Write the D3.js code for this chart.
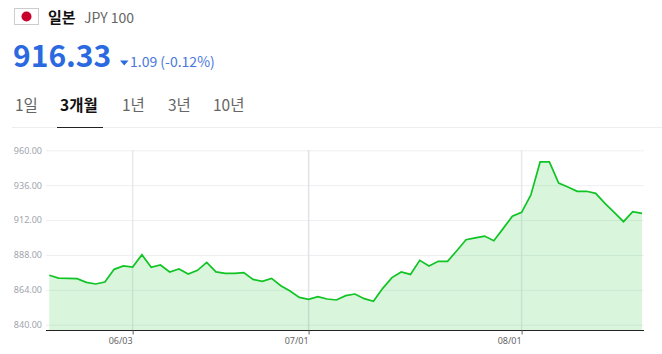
<!DOCTYPE html>
<html>
<head>
<meta charset="utf-8">
<script src="https://cdn.jsdelivr.net/npm/d3@7"></script>
<style>
body{margin:0;background:#fff;font-family:"Noto Sans CJK KR","Noto Sans",sans-serif;}
svg{display:block;}
</style>
</head>
<body>
<svg id="chart" width="662" height="354"></svg>
<script>
const rates = [874.0,872.1,871.9,871.7,869.1,868.0,869.4,878.1,880.4,879.7,888.2,879.5,881.1,876.3,878.3,874.9,877.4,882.9,876.3,875.3,875.3,875.8,871.2,869.8,871.9,866.8,863.2,858.8,857.4,859.3,857.7,857.0,860.0,861.1,857.9,856.1,865.0,872.4,876.3,874.6,884.3,880.4,883.6,883.6,890.9,898.5,899.7,901.0,897.8,906.1,914.6,917.3,929.3,952.0,952.0,937.5,934.8,931.8,931.8,930.4,923.5,917.3,910.9,917.8,916.6];
const yTicks = [840,864,888,912,936,960];
const dateIndexes = [9,28,51];
const dateLabels = ['06/03','07/01','08/01'];
const tabs = ['1일','3개월','1년','3년','10년'];
const tabX = [15,60,122,168,213];

let svg = d3.select('#chart');

// header
svg.append('rect').attr('x',14.5).attr('y',8.5).attr('width',24).attr('height',16).attr('fill','#fff').attr('stroke','#ccc');
svg.append('circle').attr('cx',26.5).attr('cy',16.5).attr('r',5).attr('fill','#c8002c');
svg.append('text').attr('x',48).attr('y',23).attr('font-size',15).attr('font-weight',700).attr('fill','#111').text('일본');
svg.append('text').attr('x',84).attr('y',23).attr('font-size',14).attr('fill','#666').text('JPY 100');
svg.append('text').attr('x',13).attr('y',67).attr('font-size',30).attr('font-weight',700).attr('fill','#2a69e0').text('916.33');
svg.append('path').attr('d','M120,60.5h8.5l-4.25,5z').attr('fill','#2a69e0');
svg.append('text').attr('x',130).attr('y',67).attr('font-size',14).attr('fill','#4a78e0').text('1.09 (-0.12%)');

// tabs
tabs.forEach(function(t,i){
    svg.append('text').attr('x',tabX[i]).attr('y',111).attr('font-size',15.5)
    .attr('font-weight',i==1?700:400).attr('fill',i==1?'#111':'#666').text(t);
});
svg.append('line').attr('x1',12).attr('x2',662).attr('y1',127.5).attr('y2',127.5).attr('stroke','#eee');
svg.append('line').attr('x1',57).attr('x2',103).attr('y1',127.5).attr('y2',127.5).attr('stroke','#222');

// chart
let x = d3.scaleLinear().domain([0,rates.length-1]).range([49.3,642]);
let y = d3.scaleLinear().domain([840,960]).range([324.7,150.3]);
let baseY = 330.5;

let gridY = d3.axisLeft(y).tickValues(yTicks).tickSize(-598).tickPadding(4).tickFormat(d3.format('.2f'));
let gy = svg.append('g').attr('transform','translate(46,0)').call(gridY);
gy.select('.domain').remove();
gy.selectAll('line').attr('stroke','#efeff1');
gy.selectAll('text').attr('fill','#a0a4ad').attr('font-size',9).attr('font-family','"Noto Sans",sans-serif');

dateIndexes.forEach(function(d,i){
    svg.append('line').attr('x1',x(d)).attr('x2',x(d)).attr('y1',150).attr('y2',baseY).attr('stroke',i==1?'#dfe3e8':'#e8e9ec').attr('stroke-width',1.5);
});

let area = d3.area().x(function(d,i){return x(i);}).y0(baseY).y1(function(d){return y(d);});
let line = d3.line().x(function(d,i){return x(i);}).y(function(d){return y(d);});
svg.append('path').datum(rates).attr('d',area).attr('fill','#14c62a').attr('fill-opacity',0.16);
svg.append('path').datum(rates).attr('d',line).attr('fill','none').attr('stroke','#10c424').attr('stroke-width',1.7);

let xAxis = d3.axisBottom(x).tickValues(dateIndexes).tickSize(4).tickFormat('');
let gx = svg.append('g').attr('transform','translate(0,'+baseY+')').call(xAxis);
gx.select('.domain').attr('d','M46,0H644').attr('stroke','#222');
gx.selectAll('line').attr('stroke','#666');
dateIndexes.forEach(function(d,i){
    svg.append('text').attr('x',x(d)).attr('y',344).attr('text-anchor','end').attr('font-size',9).attr('font-family','"Noto Sans",sans-serif').attr('fill','#666').text(dateLabels[i]);
});
</script>
</body>
</html>
